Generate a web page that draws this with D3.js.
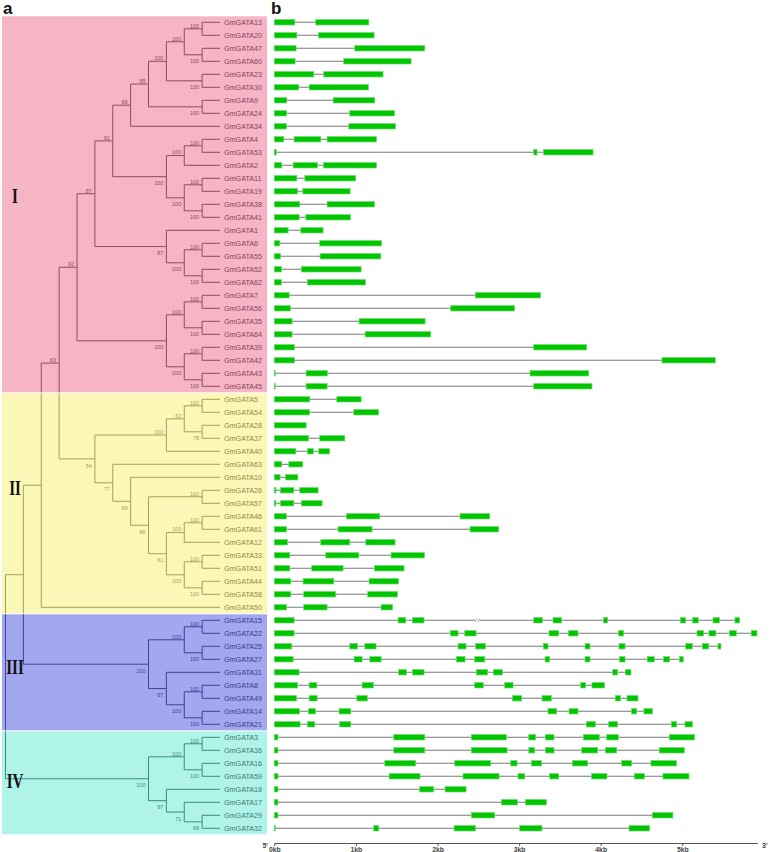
<!DOCTYPE html>
<html><head><meta charset="utf-8">
<script src="https://cdn.jsdelivr.net/npm/d3@7"></script>
<style>body{margin:0;background:#fff}svg{display:block}</style>
</head><body>
<svg id="c" width="770" height="852"></svg>
<script>
// ---------------- DATA ----------------
// Tree topology (Newick, internal labels = bootstrap support)
const cladeA = "(((GmGATA13,GmGATA20)100,(GmGATA47,GmGATA60)100)100,(GmGATA23,GmGATA30)100)100";
const clade85 = "(" + cladeA + ",(GmGATA9,GmGATA24)100)85";
const clade99 = "(" + clade85 + ",GmGATA34)99";
const cladeC = "(((GmGATA4,GmGATA53)100,GmGATA2)100,((GmGATA11,GmGATA19)100,(GmGATA38,GmGATA41)100)100)100";
const clade91 = "(" + clade99 + "," + cladeC + ")91";
const clade1 = "(GmGATA1,((GmGATA6,GmGATA55)100,(GmGATA52,GmGATA62)100)100)87";
const clade87 = "(" + clade91 + "," + clade1 + ")87";
const cladeBig = "(((GmGATA7,GmGATA56)100,(GmGATA35,GmGATA64)100)100,((GmGATA39,GmGATA42)100,(GmGATA43,GmGATA45)100)100)100";
const clade92 = "(" + clade87 + "," + cladeBig + ")92";
const cladeIIa = "(((GmGATA5,GmGATA54)100,(GmGATA28,GmGATA37)78)62,GmGATA40)100";
const clade61 = "(((GmGATA46,GmGATA61)100,GmGATA12)100,((GmGATA33,GmGATA51)100,(GmGATA44,GmGATA58)100)100)61";
const clade86 = "((GmGATA26,GmGATA57)100," + clade61 + ")86";
const clade69 = "(GmGATA10," + clade86 + ")69";
const clade77 = "(GmGATA63," + clade69 + ")77";
const clade54 = "(" + cladeIIa + "," + clade77 + ")54";
const clade63 = "(" + clade92 + "," + clade54 + ")63";
const cladeI_II = "(" + clade63 + ",GmGATA50)";
const cladeIII = "(((GmGATA15,GmGATA22)100,(GmGATA25,GmGATA27)100)100,(GmGATA31,((GmGATA8,GmGATA49)100,(GmGATA14,GmGATA21)100)100)67)100";
const cladeIV = "(((GmGATA3,GmGATA36)100,(GmGATA16,GmGATA59)100)100,(GmGATA18,(GmGATA17,(GmGATA29,GmGATA32)68)71)97)100";
const newick = "((" + cladeI_II + "," + cladeIII + ")," + cladeIV + ");";

// Gene order (top to bottom)
const genes = ["GmGATA13","GmGATA20","GmGATA47","GmGATA60","GmGATA23","GmGATA30","GmGATA9","GmGATA24","GmGATA34",
 "GmGATA4","GmGATA53","GmGATA2","GmGATA11","GmGATA19","GmGATA38","GmGATA41","GmGATA1","GmGATA6","GmGATA55",
 "GmGATA52","GmGATA62","GmGATA7","GmGATA56","GmGATA35","GmGATA64","GmGATA39","GmGATA42","GmGATA43","GmGATA45",
 "GmGATA5","GmGATA54","GmGATA28","GmGATA37","GmGATA40","GmGATA63","GmGATA10","GmGATA26","GmGATA57","GmGATA46",
 "GmGATA61","GmGATA12","GmGATA33","GmGATA51","GmGATA44","GmGATA58","GmGATA50","GmGATA15","GmGATA22","GmGATA25",
 "GmGATA27","GmGATA31","GmGATA8","GmGATA49","GmGATA14","GmGATA21","GmGATA3","GmGATA36","GmGATA16","GmGATA59",
 "GmGATA18","GmGATA17","GmGATA29","GmGATA32"];

// Exon coordinates (bp) for each gene, same order as genes
const exons = [
 [[0,251],[508,1158]],
 [[0,276],[541,1223]],
 [[0,267],[986,1844]],
 [[0,255],[851,1676]],
 [[0,484],[606,1333]],
 [[0,300],[427,1153]],
 [[0,153],[721,1231]],
 [[0,149],[925,1472]],
 [[0,149],[913,1484]],
 [[0,116],[243,570],[647,1252]],
 [[0,25],[3179,3220],[3298,3906]],
 [[0,92],[231,529],[602,1252]],
 [[0,276],[374,998]],
 [[0,284],[349,929]],
 [[0,312],[647,1227]],
 [[0,304],[386,933]],
 [[0,169],[325,598]],
 [[0,67],[557,1313]],
 [[0,76],[561,1305]],
 [[0,88],[333,1064]],
 [[0,88],[406,1117]],
 [[0,182],[2464,3261]],
 [[0,198],[2162,2942]],
 [[0,218],[1039,1848]],
 [[0,218],[1113,1917]],
 [[0,247],[3179,3828]],
 [[0,247],[4751,5404]],
 [[0,12],[390,651],[3134,3853]],
 [[0,12],[390,647],[3179,3893]],
 [[0,435],[766,1064]],
 [[0,431],[974,1276]],
 [[0,390]],
 [[0,419],[557,864]],
 [[0,263],[406,480],[545,676]],
 [[0,92],[178,349]],
 [[0,71],[137,288]],
 [[0,20],[76,239],[312,537]],
 [[0,20],[76,239],[333,586]],
 [[0,149],[884,1292],[2276,2640]],
 [[0,149],[782,1198],[2399,2750]],
 [[0,161],[570,925],[1121,1480]],
 [[0,190],[631,1035],[1431,1840]],
 [[0,190],[459,843],[1227,1590]],
 [[0,202],[353,729],[1162,1521]],
 [[0,202],[361,753],[1145,1509]],
 [[0,149],[361,647],[1309,1448]],
 [[0,243],[1517,1611],[1693,1835],[3179,3285],[3416,3518],[4036,4085],[4976,5041],[5127,5196],[5376,5457],[5645,5702]],
 [[0,243],[2158,2252],[2334,2473],[3367,3485],[3604,3722],[4220,4281],[5180,5261],[5327,5412],[5580,5662],[5845,5915]],
 [[0,214],[925,1019],[1109,1247],[2252,2350],[2468,2587],[3297,3354],[3808,3869],[4224,4298],[5041,5123],[5245,5323],[5437,5474]],
 [[0,231],[978,1076],[1170,1309],[2231,2338],[2456,2579],[3318,3375],[3808,3869],[4232,4298],[4571,4657],[4771,4845],[4967,5012]],
 [[0,304],[1525,1619],[1693,1835],[2477,2615],[2685,2795],[4147,4208],[4302,4371]],
 [[0,284],[427,521],[1076,1215],[2456,2562],[2824,2926],[3755,3816],[3893,4045]],
 [[0,272],[427,525],[1011,1141],[2918,3032],[3281,3395],[4179,4241],[4322,4457]],
 [[0,308],[419,504],[794,937],[3354,3461],[3612,3722],[4379,4441],[4530,4633]],
 [[0,316],[406,496],[802,937],[3824,3934],[4098,4204],[4869,4931],[5033,5123]],
 [[0,45],[1464,1844],[2415,2844],[3118,3203],[3322,3428],[3787,3983],[4073,4216],[4841,5151]],
 [[0,45],[1464,1844],[2415,2852],[3118,3191],[3322,3428],[3767,3963],[4057,4196],[4718,5025]],
 [[0,45],[1354,1733],[2211,2652],[2897,2975],[3150,3273],[3653,3840],[4257,4379],[4616,4927]],
 [[0,45],[1407,1786],[2313,2754],[2987,3069],[3375,3485],[3889,4077],[4412,4535],[4763,5082]],
 [[0,45],[1782,1954],[2093,2350]],
 [[0,45],[2783,2979],[3077,3334]],
 [[0,45],[2415,2701],[4633,4885]],
 [[0,12],[1219,1280],[2203,2464],[3007,3281],[4347,4600]]
];

// Intron break marks
const breakGenes = ["GmGATA15"];
const breakAt = [2490];

// Axis
const tickValues = [0,1000,2000,3000,4000,5000];
const tickLabels = ["0kb","1kb","2kb","3kb","4kb","5kb"];
const axisMax = 5920;

// Groups (bands): first & last gene, label anchor leaves
const groupNames = ["I","II","III","IV"];
const groupFirst = ["GmGATA13","GmGATA5","GmGATA15","GmGATA3"];
const groupLast  = ["GmGATA45","GmGATA50","GmGATA21","GmGATA32"];
const groupAnchorA = ["GmGATA13","GmGATA5","GmGATA15","GmGATA3"];
const groupAnchorB = ["GmGATA1","GmGATA50","GmGATA21","GmGATA32"];

// ---------------- STYLE ----------------
const bandFill = ["#f6b5c5","#fbf8b7","#a3a7ef","#b0f4e9"];
const bandLine = ["#8e4b64","#a69f58","#3e4298","#3e8b81"];
const bandText = ["#84425b","#8f8940","#373b8c","#377c73"];

// ---------------- BUILD ----------------
function parseNewick(s){
  let i=0;
  function node(){
    const n={};
    if(s[i]==='('){
      i++; n.children=[];
      n.children.push(node());
      while(s[i]===','){ i++; n.children.push(node()); }
      i++; // ')'
    }
    let lab='';
    while(i<s.length && !',();'.includes(s[i])) lab+=s[i++];
    if(n.children) n.support=lab; else n.name=lab;
    return n;
  }
  return node();
}

const svg=d3.select("#c");
const yRow=d3.scalePoint().domain(genes).range([22.3,828.3]);
const step=yRow.step();
const root=d3.hierarchy(parseNewick(newick));
const maxH=root.height;
const xTree=d3.scaleLinear().domain([0,maxH]).range([5.5,220]);
root.eachAfter(n=>{
  n.px=xTree(maxH-n.height);
  n.py=n.children?(n.children[0].py+n.children[n.children.length-1].py)/2:yRow(n.data.name);
});

const bands=groupNames.map((g,k)=>({
  name:g, k,
  y0:yRow(groupFirst[k])-step/2+0.5,
  y1:yRow(groupLast[k])+step/2-0.5
}));
function bandOf(y){
  let best=0,bd=1e9;
  bands.forEach(b=>{const d=y<b.y0?b.y0-y:(y>b.y1?y-b.y1:0); if(d<bd){bd=d;best=b.k;}});
  return best;
}

const bandX0=2, bandX1=267;
const defs=svg.append("defs");
bands.forEach(b=>{
  defs.append("clipPath").attr("id","clip"+b.k).append("rect")
    .attr("x",bandX0).attr("y",b.y0).attr("width",bandX1-bandX0).attr("height",b.y1-b.y0);
});

svg.append("g").selectAll("rect").data(bands).join("rect")
  .attr("x",bandX0).attr("y",d=>d.y0).attr("width",bandX1-bandX0).attr("height",d=>d.y1-d.y0)
  .attr("fill",d=>bandFill[d.k]);

// tree path
let pd="";
root.each(n=>{
  if(n.parent) pd+=`M${n.parent.px},${n.py}H${n.px}`;
  if(n.children) pd+=`M${n.px},${n.children[0].py}V${n.children[n.children.length-1].py}`;
});
bands.forEach(b=>{
  svg.append("g").attr("clip-path",`url(#clip${b.k})`)
    .append("path").attr("d",pd).attr("fill","none")
    .attr("stroke",bandLine[b.k]).attr("stroke-width",1);
});

// leaf labels
svg.append("g").selectAll("text").data(root.leaves()).join("text")
  .attr("x",xTree(maxH)+4).attr("y",d=>d.py+2.6)
  .attr("font-family","Liberation Sans, Arial, sans-serif").attr("font-size",7.2)
  .attr("fill",d=>bandText[bandOf(d.py)])
  .text(d=>d.data.name);

// bootstrap labels
const supNodes=root.descendants().filter(n=>n.children&&n.parent&&n.data.support);
svg.append("g").selectAll("text").data(supNodes).join("text")
  .attr("x",d=>d.px-3)
  .attr("y",d=>d.parent.children[0]===d? d.py-1.2 : d.py+8.6)
  .attr("text-anchor","end")
  .attr("font-family","Liberation Sans, Arial, sans-serif").attr("font-size",5.5)
  .attr("fill",d=>bandLine[bandOf(d.py)])
  .text(d=>d.data.support);

// group numerals
const leafBy=new Map(root.leaves().map(l=>[l.data.name,l]));
function mrca(a,b){const A=leafBy.get(a).ancestors();const B=new Set(leafBy.get(b).ancestors());return A.find(n=>B.has(n));}
groupNames.forEach((g,k)=>{
  const n=mrca(groupAnchorA[k],groupAnchorB[k]);
  svg.append("text").attr("transform",`translate(15,${n.py+9.7}) scale(1,1.35)`)
    .attr("text-anchor","middle").attr("font-family","Liberation Serif, Times New Roman, serif")
    .attr("font-weight","bold").attr("font-size",15).attr("fill","#111").text(g);
});

// panel letters
svg.append("text").attr("x",3).attr("y",14).attr("font-family","Liberation Sans, Arial, sans-serif")
  .attr("font-weight","bold").attr("font-size",17).attr("fill","#111").text("a");
svg.append("text").attr("x",271).attr("y",14).attr("font-family","Liberation Sans, Arial, sans-serif")
  .attr("font-weight","bold").attr("font-size",17).attr("fill","#111").text("b");

// gene structures
const xGene=d3.scaleLinear().domain([0,axisMax]).range([274.3,274.3+axisMax*0.0816]);
const gs=svg.append("g");
genes.forEach((g,i)=>{
  const ex=exons[i], y=yRow(g);
  gs.append("line").attr("x1",xGene(ex[0][0])).attr("x2",xGene(ex[ex.length-1][1]))
    .attr("y1",y).attr("y2",y).attr("stroke","#7a7a7a").attr("stroke-width",1.1);
  gs.append("g").selectAll("rect").data(ex).join("rect")
    .attr("x",d=>xGene(d[0])).attr("width",d=>Math.max(0.8,xGene(d[1])-xGene(d[0])))
    .attr("y",y-2.7).attr("height",5.4)
    .attr("fill","#00c500").attr("stroke","#6bdc6b").attr("stroke-width",0.7);
});
breakGenes.forEach((g,i)=>{
  const y=yRow(g), x=xGene(breakAt[i]);
  gs.append("rect").attr("x",x-2.5).attr("y",y-1.5).attr("width",5).attr("height",3).attr("fill","#fff");
  [-1.5,1.5].forEach(o=>gs.append("line").attr("x1",x+o-1).attr("x2",x+o+1).attr("y1",y+1.8).attr("y2",y-1.8)
    .attr("stroke","#777").attr("stroke-width",0.7));
});

// axis
const axisY=843;
const ag=svg.append("g").attr("transform",`translate(0,${axisY})`)
  .call(d3.axisBottom(xGene).tickValues(tickValues).tickFormat((d,i)=>tickLabels[i]).tickSize(3).tickSizeOuter(0).tickPadding(1));
ag.select(".domain").attr("stroke","#555");
ag.selectAll(".tick line").attr("stroke","#555");
ag.selectAll(".tick text").attr("font-family","Liberation Sans, Arial, sans-serif").attr("font-size",6.8)
  .attr("font-weight","bold").attr("fill","#444");
svg.append("text").attr("x",268).attr("y",848).attr("text-anchor","end")
  .attr("font-family","Liberation Sans, Arial, sans-serif").attr("font-size",7).attr("font-weight","bold").attr("fill","#444").text("5'");
svg.append("text").attr("x",762).attr("y",848)
  .attr("font-family","Liberation Sans, Arial, sans-serif").attr("font-size",7).attr("font-weight","bold").attr("fill","#444").text("3'");
</script>
</body></html>
